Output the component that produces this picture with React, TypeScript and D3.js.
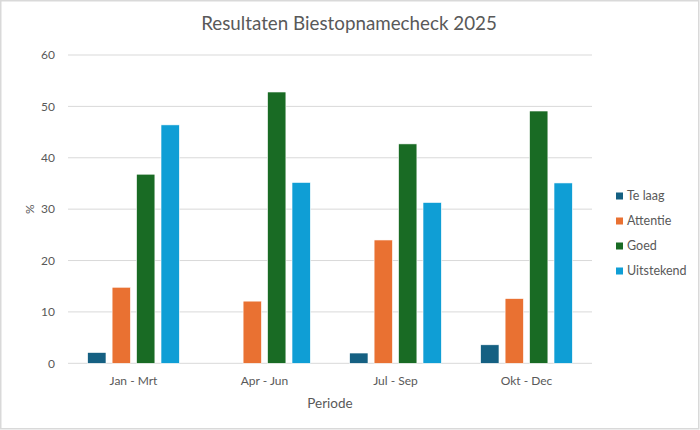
import React from 'react'
import * as d3 from 'd3'

const categories = ['Jan - Mrt', 'Apr - Jun', 'Jul - Sep', 'Okt - Dec']
const seriesNames = ['Te laag', 'Attentie', 'Goed', 'Uitstekend']
const teLaag = [2.1, 0, 2.0, 3.6]
const attentie = [14.8, 12.1, 24.0, 12.6]
const goed = [36.8, 52.8, 42.7, 49.1]
const uitstekend = [46.4, 35.2, 31.3, 35.1]
const yTicks = [0, 10, 20, 30, 40, 50, 60]
const colors = ['#156082', '#e97132', '#196b24', '#0f9ed5']

export default function App() {
    let width = 700, height = 430
    let left = 68, right = 592, top = 55, bottom = 363.3
    let font = 'Lato, "Open Sans", sans-serif'
    let textColor = '#595959'

    let values = [teLaag, attentie, goed, uitstekend]

    var x0 = d3.scaleBand()
        .domain(categories)
        .range([left, right])
        .paddingInner(0.3)
        .paddingOuter(0.15)

    var x1 = d3.scaleBand()
        .domain(seriesNames)
        .range([0, x0.bandwidth()])
        .paddingInner(0.25)

    var y = d3.scaleLinear()
        .domain([0, 60])
        .range([bottom, top])

    return (
        <svg width={width} height={height} style={{ position: 'absolute', left: 0, top: 0, background: '#fff' }} fontFamily={font}>
            <rect x={0.75} y={0.75} width={width - 2} height={height - 2} fill='#fff' stroke='#d9d9d9' strokeWidth={1.5} />
            <text x={349} y={29.5} textAnchor='middle' fontSize={18.8} fill={textColor}>Resultaten Biestopnamecheck 2025</text>

            {/* gridlines + y ticks */}
            {yTicks.map(t => (
                <g key={t}>
                    <line x1={left} x2={right} y1={y(t)} y2={y(t)} stroke='#d9d9d9' strokeWidth={1} />
                    <text x={55} y={y(t)} dy='0.35em' textAnchor='end' fontSize={12} fill={textColor}>{t}</text>
                </g>
            ))}

            <text transform={'translate(30,' + ((top + bottom) / 2) + ') rotate(-90)'} textAnchor='middle' dy='0.35em' fontSize={12} fill={textColor}>%</text>

            {/* bars */}
            {categories.map((c, i) => (
                <g key={c} transform={'translate(' + x0(c) + ',0)'}>
                    {seriesNames.map((s, j) => values[j][i] > 0 ? (
                        <rect key={s}
                            x={x1(s)}
                            y={y(values[j][i])}
                            width={x1.bandwidth()}
                            height={y(0) - y(values[j][i])}
                            fill={colors[j]}
                            stroke='#fff'
                            strokeWidth={0.6} />
                    ) : null)}
                </g>
            ))}

            {/* x labels */}
            {categories.map(c => (
                <text key={c} x={(x0(c) as number) + x0.bandwidth() / 2} y={381} dy='0.35em' textAnchor='middle' fontSize={12} fill={textColor}>{c}</text>
            ))}
            <text x={(left + right) / 2} y={403} dy='0.35em' textAnchor='middle' fontSize={13.5} fill={textColor}>Periode</text>

            {/* legend */}
            {seriesNames.map((s, j) => (
                <g key={s} transform={'translate(616,' + (196 + j * 25) + ')'}>
                    <rect x={0} y={-3.5} width={7} height={7} fill={colors[j]} />
                    <text x={11} y={0} dy='0.35em' fontSize={12.5} fill={textColor}>{s}</text>
                </g>
            ))}
        </svg>
    )
}
